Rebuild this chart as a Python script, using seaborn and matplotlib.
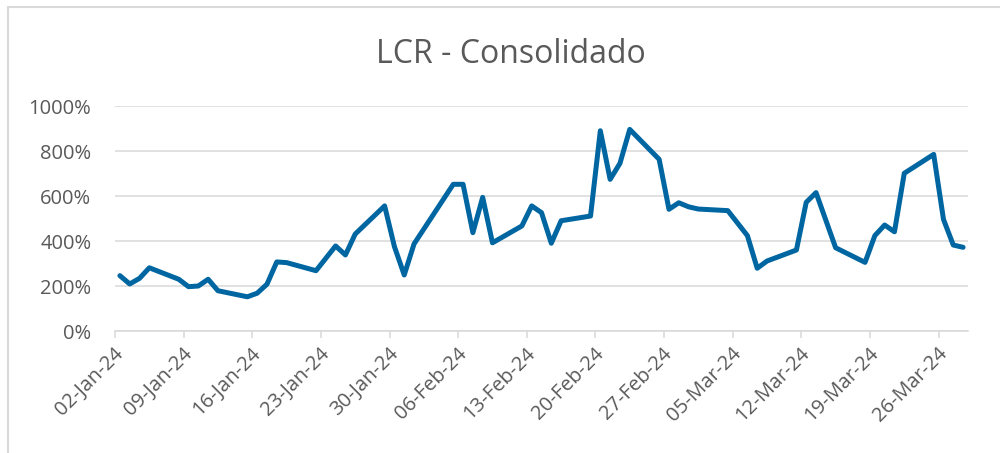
import pandas as pd
import numpy as np
import matplotlib
matplotlib.use("Agg")
import matplotlib.pyplot as plt
import matplotlib.dates as mdates
import matplotlib.transforms as mtransforms
from matplotlib.patches import Rectangle
from matplotlib.ticker import FuncFormatter, MultipleLocator
import seaborn as sns

# LCR series (business days, % values)
dates = [
    "2024-01-02", "2024-01-03", "2024-01-04", "2024-01-05", "2024-01-08",
    "2024-01-09", "2024-01-10", "2024-01-11", "2024-01-12", "2024-01-15",
    "2024-01-16", "2024-01-17", "2024-01-18", "2024-01-19", "2024-01-22",
    "2024-01-24", "2024-01-25", "2024-01-26", "2024-01-29", "2024-01-30",
    "2024-01-31", "2024-02-01", "2024-02-05", "2024-02-06", "2024-02-07",
    "2024-02-08", "2024-02-09", "2024-02-12", "2024-02-13", "2024-02-14",
    "2024-02-15", "2024-02-16", "2024-02-19", "2024-02-20", "2024-02-21",
    "2024-02-22", "2024-02-23", "2024-02-26", "2024-02-27", "2024-02-28",
    "2024-02-29", "2024-03-01", "2024-03-04", "2024-03-06", "2024-03-07",
    "2024-03-08", "2024-03-11", "2024-03-12", "2024-03-13", "2024-03-15",
    "2024-03-18", "2024-03-19", "2024-03-20", "2024-03-21", "2024-03-22",
    "2024-03-25", "2024-03-26", "2024-03-27", "2024-03-28",
]
lcr_values = [
    246, 209, 234, 281, 230,
    197, 200, 230, 179, 152,
    168, 208, 307, 304, 268,
    378, 338, 431, 556, 375,
    249, 387, 652, 652, 437,
    594, 392, 467, 556, 526,
    390, 490, 511, 890, 674,
    745, 896, 763, 541, 570,
    552, 542, 535, 424, 279,
    311, 360, 572, 615, 370,
    305, 424, 471, 441, 701,
    785, 496, 382, 372,
]
tick_dates = pd.date_range("2024-01-02", "2024-03-26", freq="7D")
y_ticks = [0, 200, 400, 600, 800, 1000]

grey_text = "#595959"
grid_grey = "#D9D9D9"
line_blue = "#0066A1"

df = pd.DataFrame({"date": pd.to_datetime(dates), "lcr": lcr_values})
# excel date axis draws each point in the middle of its day slot
df["x"] = df["date"] + pd.Timedelta(hours=12)

sns.set_theme(style="white")
plt.rcParams["font.family"] = ["Open Sans", "DejaVu Sans"]

fig = plt.figure(figsize=(10, 4.53), dpi=100)
ax = fig.add_axes([0.115, 0.2693, 0.853, 0.4967])

sns.lineplot(data=df, x="x", y="lcr", ax=ax, color=line_blue, linewidth=3.6)
for ln in ax.lines:
    ln.set_solid_joinstyle("round")
    ln.set_solid_capstyle("round")

ax.set_xlim(pd.Timestamp("2024-01-02"), pd.Timestamp("2024-03-29"))
ax.set_ylim(0, 1000)
ax.set_yticks(y_ticks)
ax.yaxis.set_major_formatter(FuncFormatter(lambda v, p: f"{v:.0f}%"))
ax.set_xticks(tick_dates)
ax.xaxis.set_major_formatter(mdates.DateFormatter("%d-%b-%y"))

ax.grid(axis="y", color=grid_grey, linewidth=1.1)
ax.grid(axis="x", visible=False)
ax.set_axisbelow(True)
for side in ["top", "right", "left"]:
    ax.spines[side].set_visible(False)
ax.spines["bottom"].set_color(grid_grey)
ax.spines["bottom"].set_linewidth(1.1)

ax.tick_params(axis="y", length=0, pad=17, labelsize=14.5, labelcolor=grey_text)
ax.tick_params(axis="x", direction="out", length=5, width=1.1, color=grid_grey,
               pad=9, labelsize=14.5, labelcolor=grey_text, bottom=True)
offset = mtransforms.ScaledTranslation(4 / 72, 0, fig.dpi_scale_trans)
for lbl in ax.get_xticklabels():
    lbl.set_rotation(45)
    lbl.set_ha("right")
    lbl.set_va("center")
    lbl.set_rotation_mode("anchor")
    lbl.set_transform(lbl.get_transform() + offset)

ax.set_xlabel("")
ax.set_ylabel("")

fig.text(0.511, (453 - 62.7) / 453, "LCR - Consolidado", ha="center", va="baseline",
         fontsize=23, color=grey_text)

fig.add_artist(Rectangle((0.008, -0.1), 1.5, (453 - 7) / 453 + 0.1,
                         transform=fig.transFigure, fill=False,
                         edgecolor=grid_grey, linewidth=1.5))

fig.savefig("out.png", dpi=100)
plt.close(fig)
